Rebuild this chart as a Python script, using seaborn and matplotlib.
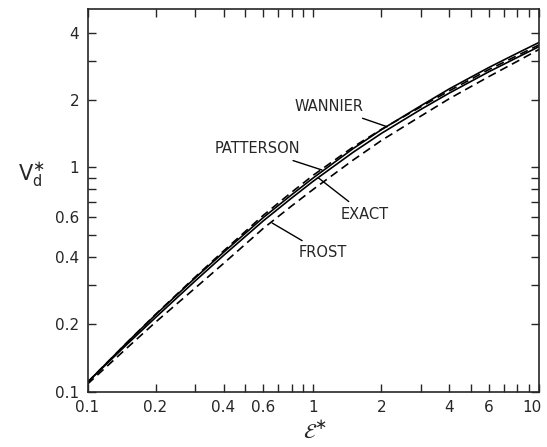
import matplotlib
matplotlib.use('Agg')
import matplotlib.pyplot as plt
import matplotlib.transforms as mtransforms
import seaborn as sns
from matplotlib.ticker import FixedLocator, NullFormatter

# values (log-log axes)
field = [0.1, 0.15, 0.2, 0.3, 0.4, 0.6, 0.8, 1.0, 1.5, 2.0, 3.0, 4.0, 6.0, 8.0, 10.0]
exact = [0.110, 0.163, 0.214, 0.312, 0.405, 0.578, 0.730, 0.870, 1.17, 1.42, 1.82, 2.15, 2.68, 3.10, 3.47]
wannier = [0.110, 0.166, 0.220, 0.322, 0.418, 0.598, 0.755, 0.900, 1.215, 1.475, 1.89, 2.245, 2.80, 3.24, 3.62]
patterson = [0.110, 0.166, 0.221, 0.325, 0.424, 0.612, 0.775, 0.925, 1.235, 1.48, 1.87, 2.20, 2.74, 3.16, 3.53]
frost = [0.108, 0.157, 0.204, 0.290, 0.373, 0.535, 0.673, 0.800, 1.08, 1.32, 1.70, 2.03, 2.55, 2.98, 3.37]

x_ticks = [0.1, 0.2, 0.4, 0.6, 1, 2, 4, 6, 10]
x_ticklabels = ['0.1', '0.2', '0.4', '0.6', '1', '2', '4', '6', '10']
y_ticks = [0.1, 0.2, 0.4, 0.6, 1, 2, 4]
y_ticklabels = ['0.1', '0.2', '0.4', '0.6', '1', '2', '4']
minor_x = [0.3, 0.5, 0.7, 0.8, 0.9, 3, 5, 7, 8, 9]
minor_y = [0.3, 0.5, 0.7, 0.8, 0.9, 3]

sns.set_style('ticks')
plt.rcParams['font.family'] = ['DejaVu Sans']
plt.rcParams['mathtext.fontset'] = 'dejavusans'

fig = plt.figure(figsize=(5.47, 4.47), dpi=100)
ax = fig.add_axes([0.160, 0.124, 0.826, 0.856])

dash = (0, (5, 3))
sns.lineplot(x=field, y=wannier, ax=ax, color='black', lw=1.2)
sns.lineplot(x=field, y=exact, ax=ax, color='black', lw=1.2)
sns.lineplot(x=field, y=patterson, ax=ax, color='black', lw=1.2, linestyle=dash)
sns.lineplot(x=field, y=frost, ax=ax, color='black', lw=1.2, linestyle=dash)

ax.set_xscale('log')
ax.set_yscale('log')
ax.set_xlim(0.1, 10)
ax.set_ylim(0.1, 5.1)

ax.xaxis.set_major_locator(FixedLocator(x_ticks))
ax.xaxis.set_minor_locator(FixedLocator(minor_x))
ax.yaxis.set_major_locator(FixedLocator(y_ticks))
ax.yaxis.set_minor_locator(FixedLocator(minor_y))
ax.set_xticklabels(x_ticklabels)
ax.set_yticklabels(y_ticklabels)
ax.xaxis.set_minor_formatter(NullFormatter())
ax.yaxis.set_minor_formatter(NullFormatter())
ax.tick_params(which='both', direction='in', length=6, width=1.0,
               top=True, right=True, labelsize=11, pad=6)
for sp in ax.spines.values():
    sp.set_linewidth(1.2)

# pull the last x label ("10") a little inside the figure
last = ax.get_xticklabels()[-1]
last.set_transform(last.get_transform() + mtransforms.ScaledTranslation(-5 / 72, 0, fig.dpi_scale_trans))

ax.set_xlabel(r'$\mathcal{E}^{\ast}$', fontsize=15)
ax.xaxis.set_label_coords(0.504, -0.075)
ax.set_ylabel(r'$\mathrm{V}_{\mathrm{d}}^{\ast}$', fontsize=15, rotation=0)
ax.yaxis.set_label_coords(-0.125, 0.53)

arrow = dict(arrowstyle='-', color='black', lw=1.0, shrinkA=2, shrinkB=0)
ax.annotate('WANNIER', xy=(2.12, 1.52), xytext=(1.66, 1.87), ha='right', va='center',
            fontsize=10.5, arrowprops=arrow)
ax.annotate('PATTERSON', xy=(1.09, 0.975), xytext=(0.873, 1.21), ha='right', va='center',
            fontsize=10.5, arrowprops=arrow)
ax.annotate('EXACT', xy=(1.05, 0.9), xytext=(1.32, 0.62), ha='left', va='center',
            fontsize=10.5, arrowprops=arrow)
ax.annotate('FROST', xy=(0.657, 0.565), xytext=(0.86, 0.416), ha='left', va='center',
            fontsize=10.5, arrowprops=arrow)

fig.savefig('out.png', dpi=100)
